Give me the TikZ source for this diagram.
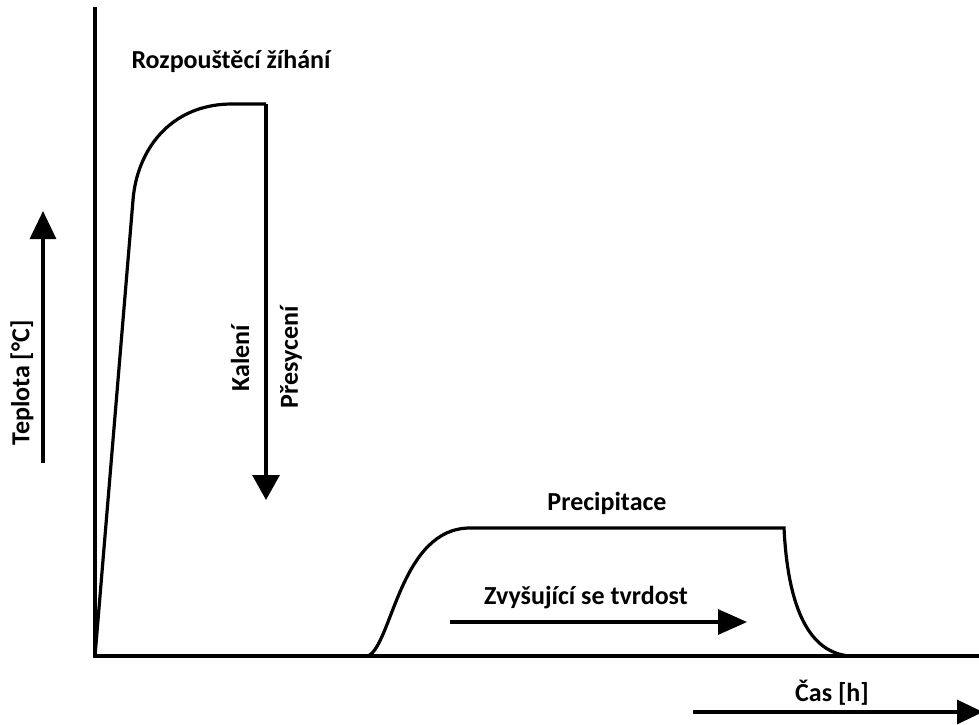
\documentclass[tikz,border=0pt]{standalone}
\usepackage{fontspec}
\setmainfont{Carlito}
\usetikzlibrary{arrows.meta}
\begin{document}
\begin{tikzpicture}[x=1pt,y=-1pt,
  curve/.style={line width=3.2pt,line join=miter},
  axis/.style={line width=3.2pt},
  bigarrow/.style={line width=3.2pt,-{Triangle[length=27pt,width=26pt]}},
  lbl/.style={font=\fontsize{26}{30}\selectfont\bfseries,inner sep=0pt}]
\useasboundingbox (0,0) rectangle (979,724);
\clip (0,0) rectangle (979,724);
% axes
\coordinate (o) at (95,656);
\coordinate (ytop) at (95,7);
\coordinate (xend) at (985,656);
\draw[axis] (ytop) -- (o) -- (xend);
% first curve
\coordinate (a1) at (133,200);
\coordinate (a2) at (230,104);
\coordinate (a3) at (266,104);
\coordinate (a4) at (266,500);
\draw[curve] (o) -- (a1) .. controls (137,150) and (170,105) .. (a2) -- (a3);
\draw[bigarrow,{Triangle[length=25pt,width=27pt]}-] (a4) -- (a3);
% second curve
\coordinate (b0) at (368,656);
\coordinate (b1) at (470,528);
\coordinate (b2) at (784,528);
\coordinate (b3) at (850,656);
\draw[curve] (b0) .. controls (392,645) and (400,528) .. (b1) -- (b2)
  .. controls (788,610) and (810,653) .. (b3);
% arrows
\coordinate (t0) at (43,463);
\coordinate (t1) at (43,211);
\draw[bigarrow,-{Triangle[length=28pt,width=26pt]}] (t0) -- (t1);
\coordinate (z0) at (450,622);
\coordinate (z1) at (747,622);
\draw[bigarrow,-{Triangle[length=29pt,width=25pt]}] (z0) -- (z1);
\coordinate (c0) at (693,712);
\coordinate (c1) at (983,712);
\draw[bigarrow,-{Triangle[length=26pt,width=24pt]}] (c0) -- (c1);
% labels
\node[lbl] (roz) at (231,61) {Rozpouštěcí žíhání};
\node[lbl,rotate=90] (tep) at (22,383) {Teplota [°C]};
\node[lbl,rotate=90] (kal) at (240,358) {Kalení};
\node[lbl,rotate=90] (pre) at (291,357) {Přesycení};
\node[lbl] (prec) at (607,503) {Precipitace};
\node[lbl] (zvy) at (586,598) {Zvyšující se tvrdost};
\node[lbl] (cas) at (832,693) {Čas [h]};
\end{tikzpicture}
\end{document}
